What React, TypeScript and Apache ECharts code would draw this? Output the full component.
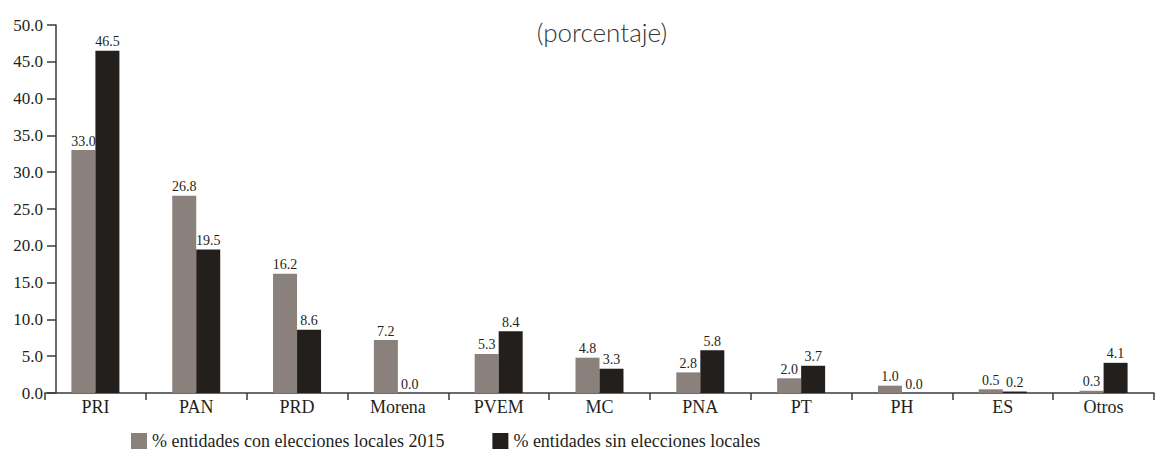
import React, { useEffect, useRef } from "react";
import * as echarts from "echarts";

const categories = ["PRI", "PAN", "PRD", "Morena", "PVEM", "MC", "PNA", "PT", "PH", "ES", "Otros"];
const conElecciones = [33.0, 26.8, 16.2, 7.2, 5.3, 4.8, 2.8, 2.0, 1.0, 0.5, 0.3];
const sinElecciones = [46.5, 19.5, 8.6, 0.0, 8.4, 3.3, 5.8, 3.7, 0.0, 0.2, 4.1];
const seriesNames = ["% entidades con elecciones locales 2015", "% entidades sin elecciones locales"];
const title = "(porcentaje)";

const SERIF = "'Liberation Serif', 'DejaVu Serif', serif";
const GRAY = "#8a817d";
const DARK = "#231f1c";

export default function App() {
  const ref = useRef<HTMLDivElement>(null);
  useEffect(() => {
    if (!ref.current) return;
    const chart = echarts.init(ref.current, null, { renderer: "svg" });
    const labelCfg = {
      show: true,
      position: "top",
      distance: 2,
      fontFamily: SERIF,
      fontSize: 14,
      color: DARK,
      formatter: (p: any) => Number(p.value).toFixed(1),
    };
    chart.setOption({
      animation: false,
      backgroundColor: "#ffffff",
      textStyle: { fontFamily: SERIF },
      title: {
        text: title,
        left: 597,
        textAlign: "center",
        top: 14,
        textStyle: { fontFamily: "Lato, 'Noto Sans', sans-serif", fontWeight: 300, fontSize: 26, color: "#333" },
      },
      legend: {
        left: 126,
        top: 427,
        itemWidth: 16,
        itemHeight: 16,
        itemGap: 48,
        icon: "rect",
        textStyle: { fontFamily: SERIF, fontSize: 18, color: DARK },
        data: seriesNames,
      },
      grid: { left: 45, right: 1, top: 25, bottom: 59, containLabel: false },
      xAxis: {
        type: "category",
        data: categories,
        axisLine: { lineStyle: { color: "#3a3a3a", width: 1.5 } },
        axisTick: { show: true, length: 7, inside: false, lineStyle: { color: "#3a3a3a", width: 1.5 } },
        axisLabel: { fontFamily: SERIF, fontSize: 18, color: DARK, margin: 5 },
      },
      yAxis: {
        type: "value",
        min: 0,
        max: 50,
        interval: 5,
        offset: -11,
        splitLine: { show: false },
        axisLine: { show: true, lineStyle: { color: "#3a3a3a", width: 1.5 } },
        axisTick: { show: true, length: 9, lineStyle: { color: "#3a3a3a", width: 1.5 } },
        axisLabel: {
          fontFamily: SERIF,
          fontSize: 17,
          color: DARK,
          margin: 13,
          formatter: (v: number) => v.toFixed(1),
        },
      },
      series: [
        {
          name: seriesNames[0],
          type: "bar",
          data: conElecciones,
          barWidth: 24,
          barGap: "0%",
          itemStyle: { color: GRAY },
          label: labelCfg,
        },
        {
          name: seriesNames[1],
          type: "bar",
          data: sinElecciones,
          barWidth: 24,
          barGap: "0%",
          itemStyle: { color: DARK },
          label: labelCfg,
        },
      ],
    });
    return () => chart.dispose();
  }, []);
  return <div ref={ref} style={{ position: "absolute", left: 0, top: 0, width: 1155, height: 452 }} />;
}
